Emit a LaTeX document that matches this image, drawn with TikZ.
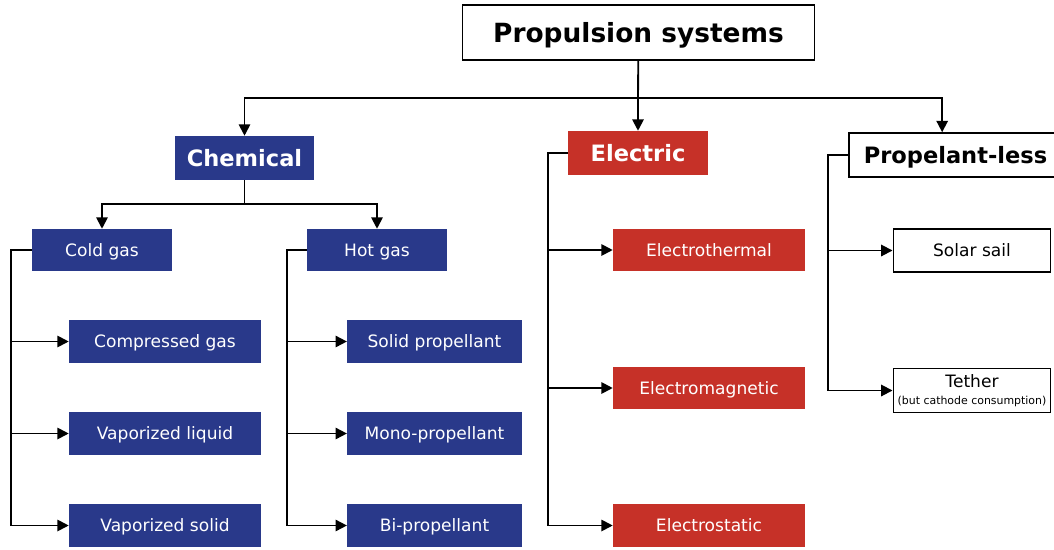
\documentclass[tikz,border=0pt]{standalone}
\usepackage{fontspec}
\setmainfont{DejaVu Sans}
\usetikzlibrary{arrows.meta}
\definecolor{chemblue}{RGB}{41,57,138}
\definecolor{elecred}{RGB}{198,49,40}
\tikzset{
  conn/.style={line width=1.4pt},
  arr/.style={conn,-{Triangle[length=8.5pt,width=8.5pt]}},
  whitebox/.style={draw=black,line width=1.2pt,fill=white,inner sep=0pt,align=center},
  chembox/.style={fill=chemblue,text=white,inner sep=0pt},
  elecbox/.style={fill=elecred,text=white,inner sep=0pt},
  headfont/.style={font=\fontsize{16.9}{20}\selectfont\bfseries,text height=12.3pt,text depth=0pt},
  leaffont/.style={font=\fontsize{12.8}{15}\selectfont,text height=9.3pt,text depth=0pt},
}
\begin{document}
\begin{tikzpicture}[x=0.75pt,y=-0.75pt]
\useasboundingbox (0,0) rectangle (1054,550);
\clip (0,0) rectangle (1054,550);
% top
\node[whitebox,minimum width=264pt,minimum height=41pt,font=\fontsize{19.8}{23}\selectfont\bfseries,text height=14.5pt,text depth=0pt] (prop) at (638.5,32.5) {Propulsion systems};
% families
\node[chembox,headfont,minimum width=104pt,minimum height=33pt] (chem) at (244.5,158) {Chemical};
\node[elecbox,headfont,minimum width=105pt,minimum height=33pt] (elec) at (638,153) {Electric};
\node[whitebox,headfont,minimum width=160pt,minimum height=33pt] (pless) at (955.5,155) {Propelant-less};
% chemical
\node[chembox,leaffont,minimum width=105pt,minimum height=31.5pt] (cold) at (102,250) {Cold gas};
\node[chembox,leaffont,minimum width=105pt,minimum height=31.5pt] (hot) at (377,250) {Hot gas};
\node[chembox,leaffont,minimum width=144pt,minimum height=32pt] (comp) at (165,341.5) {Compressed gas};
\node[chembox,leaffont,minimum width=144pt,minimum height=32pt] (vliq) at (165,433.5) {Vaporized liquid};
\node[chembox,leaffont,minimum width=144pt,minimum height=32pt] (vsol) at (165,525.5) {Vaporized solid};
\node[chembox,leaffont,minimum width=131pt,minimum height=32pt] (solid) at (434.5,341.5) {Solid propellant};
\node[chembox,leaffont,minimum width=131pt,minimum height=32pt] (mono) at (434.5,433.5) {Mono-propellant};
\node[chembox,leaffont,minimum width=131pt,minimum height=32pt] (bi) at (434.5,525.5) {Bi-propellant};
% electric
\node[elecbox,leaffont,minimum width=144pt,minimum height=32pt] (ethermal) at (709,250) {Electrothermal};
\node[elecbox,leaffont,minimum width=144pt,minimum height=32pt] (emagnetic) at (709,388) {Electromagnetic};
\node[elecbox,leaffont,minimum width=144pt,minimum height=32pt] (estatic) at (709,525.5) {Electrostatic};
% propelant-less
\node[whitebox,leaffont,minimum width=118pt,minimum height=32pt] (sail) at (972,250.5) {Solar sail};
\node[whitebox,font=\fontsize{12.8}{15}\selectfont,minimum width=118pt,minimum height=33pt] (tether) at (972,390.5) {Tether\\[-2pt]{\fontsize{8.2}{10}\selectfont (but cathode consumption)}};
% connectors
\coordinate (bus) at (638,98);
\coordinate (chembus) at (244.5,204);
\draw[conn] (prop) -- (bus);
\draw[arr] (bus) -| (chem);
\draw[arr] (bus) -- (elec);
\draw[arr] (bus) -| ([xshift=-10pt]pless.north);
\draw[conn] (chem) -- (chembus);
\draw[arr] (chembus) -| (cold);
\draw[arr] (chembus) -| (hot);
\foreach \n in {comp,vliq,vsol}
  \draw[arr] (cold.west) -- ++(-21,0) |- (\n);
\foreach \n in {solid,mono,bi}
  \draw[arr] (hot.west) -- ++(-20,0) |- (\n);
\foreach \n in {ethermal,emagnetic,estatic}
  \draw[arr] (elec.west) -- ++(-20,0) |- (\n);
\foreach \n in {sail,tether}
  \draw[arr] (pless.west) -- ++(-20,0) |- (\n);
\end{tikzpicture}
\end{document}
